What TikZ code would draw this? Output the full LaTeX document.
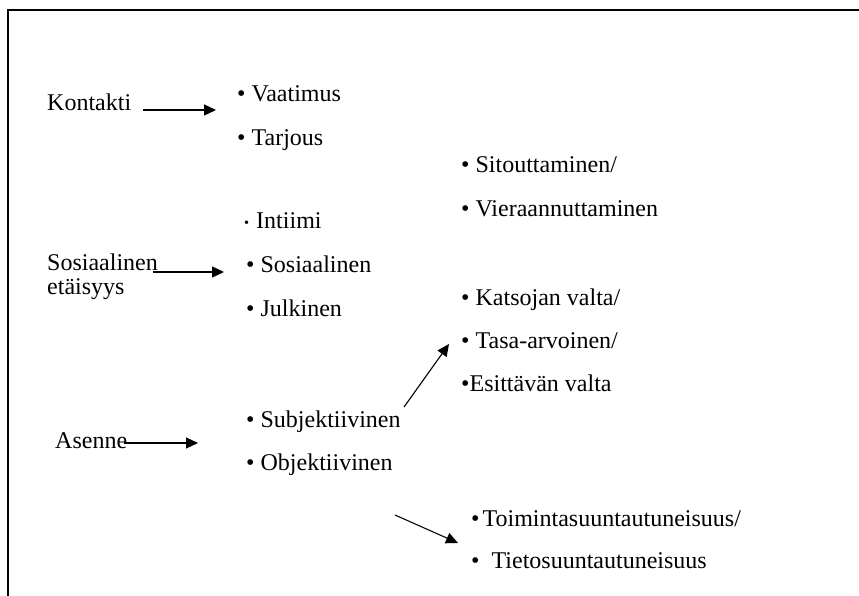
\documentclass[tikz,border=0pt]{standalone}
\usepackage{fontspec}
\setmainfont{Liberation Serif}
\usetikzlibrary{arrows.meta}

\begin{document}
\begin{tikzpicture}[x=1pt, y=-1pt,
    word/.style={anchor=base west, inner sep=0pt, font=\fontsize{24}{28}\selectfont},
    link/.style={-{Triangle[length=12pt,width=11pt]}, line width=1.1pt}]

        % Frame
        \useasboundingbox (0,0) rectangle (859,596);
        \draw[line width=1.5pt] (8,596) -- (8,10) -- (859,10);

        % Kontakti
        \node[word] (kontakti) at (47,111) {Kontakti};
        \node[word] (vaatimus) at (237,102) {• Vaatimus};
        \node[word] (tarjous) at (237,146) {• Tarjous};
        \coordinate (kontaktiA) at (143,110);
        \coordinate (kontaktiB) at (216,110);
        \draw[link, line width=1.4pt] (kontaktiA) -- (kontaktiB);

        % Sitouttaminen / Vieraannuttaminen
        \node[word] (sitout) at (461,173) {• Sitouttaminen/};
        \node[word] (vieraan) at (461,217) {• Vieraannuttaminen};

        % Sosiaalinen etaisyys
        \node[word] (sosiaalinen) at (47,270) {Sosiaalinen};
        \node[word] (etaisyys) at (47,294) {etäisyys};
        \node[word] (intiimi) at (244,229) {\raisebox{1.5pt}{\scalebox{0.6}{•}}\hspace{7pt}Intiimi};
        \node[word] (sosiaal) at (246,272) {• Sosiaalinen};
        \node[word] (julkinen) at (246,316) {• Julkinen};
        \coordinate (sosiaalA) at (153,272);
        \coordinate (sosiaalB) at (224,272);
        \draw[link, line width=1.4pt] (sosiaalA) -- (sosiaalB);

        % Katsojan valta / Tasa-arvoinen / Esittavan valta
        \node[word] (katsojan) at (461,305) {• Katsojan valta/};
        \node[word] (tasa) at (461,348) {• Tasa-arvoinen/};
        \node[word] (esittavan) at (461,391) {•Esittävän valta};

        % Asenne
        \node[word] (asenne) at (55,448) {Asenne};
        \node[word] (subj) at (246,427) {• Subjektiivinen};
        \node[word] (obj) at (246,470) {• Objektiivinen};
        \coordinate (asenneA) at (124,443);
        \coordinate (asenneB) at (198,443);
        \draw[link] (asenneA) -- (asenneB);

        % Subjektiivinen -> Tasa-arvoinen
        \coordinate (subjA) at (404,407);
        \coordinate (subjB) at (449,344);
        \draw[link] (subjA) -- (subjB);

        % Toimintasuuntautuneisuus / Tietosuuntautuneisuus
        \node[word] (toiminta) at (471,526) {•\hspace{3pt}Toimintasuuntautuneisuus/};
        \node[word] (tieto) at (471,568) {•\hspace{12pt}Tietosuuntautuneisuus};
        \coordinate (objA) at (395,515);
        \coordinate (objB) at (458,543);
        \draw[link] (objA) -- (objB);

\end{tikzpicture}
\end{document}
